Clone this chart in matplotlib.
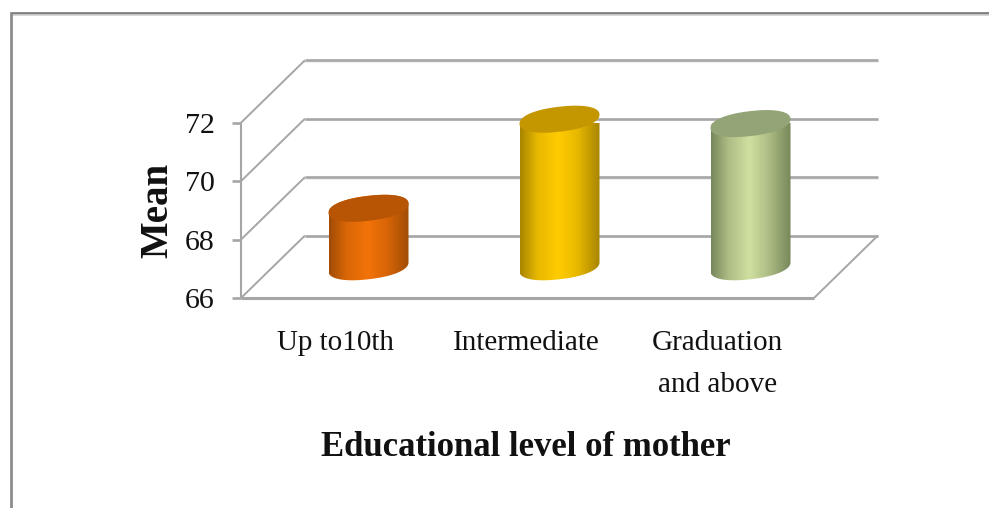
import numpy as np
import matplotlib
matplotlib.use("Agg")
import matplotlib.pyplot as plt
from matplotlib.colors import LinearSegmentedColormap
from matplotlib.lines import Line2D
from matplotlib.patches import Polygon

categories = ["Up to10th", "Intermediate", "Graduation\nand above"]
means = [68.0, 71.05, 70.9]
y_ticks = [66, 68, 70, 72]
x_title = "Educational level of mother"
y_title = "Mean"
side_dark = ["#a04c05", "#a88500", "#76875a"]
side_mid = ["#d96607", "#e8b800", "#aebd85"]
side_light = ["#f37309", "#ffcc00", "#cfe0a0"]
top_colors = ["#b85505", "#c49700", "#93a577"]

W, H = 989, 508
fig = plt.figure(figsize=(W / 100, H / 100), dpi=100, facecolor="white")
L, R, B, T = 241, 814, 298, 122.7
ax = fig.add_axes([L / W, 1 - B / H, (R - L) / W, (B - T) / H])
ax.set_xlim(-0.5, 2.5)
ax.set_ylim(66, 72)
ax.axis("off")
px = 3 / (R - L)
py = 6 / (B - T)
dx, dy = 64 * px, 62.5 * py

GRID = "#a6a6a6"
kw = dict(color=GRID, clip_on=False, solid_capstyle="butt", zorder=1)
for v in y_ticks:
    ax.plot([-0.5 + dx, 2.5 + dx], [v + dy, v + dy], lw=1.9, **kw)
    ax.plot([-0.5 + dx, 2.5 + dx], [v + dy - 1.6 * py] * 2, lw=1.2,
            color="#ececec", clip_on=False, zorder=0.9)
    ax.plot([-0.5, -0.5 + dx], [v, v + dy], lw=1.4, **kw)
    ax.plot([-0.5 - 9 * px, -0.5], [v, v], lw=1.9, **kw)
ax.plot([-0.5, -0.5], [66, 72], lw=1.5, **kw)
ax.plot([-0.5, 2.5], [66, 66], lw=2.2, **kw)
ax.plot([2.5, 2.5 + dx], [66, 66 + dy], lw=1.4, **kw)

a = 40 * px
b = 12.5 * py
s = 4.5 * py
t = np.linspace(0, 2 * np.pi, 240)
power = 0.9
for i, v in enumerate(means):
    cx = i + dx / 2
    base = 66 + dy / 2
    top = v + dy / 2
    cos_t, sin_t = np.cos(t), np.sin(t)
    sc = np.sign(cos_t) * np.abs(cos_t) ** power
    ss = np.sign(sin_t) * np.abs(sin_t) ** power
    ex = a * sc
    ey = b * ss + s * sc
    lower = t >= np.pi
    bx = np.r_[cx + ex[lower], cx + ex[~lower]]
    by = np.r_[base + ey[lower], top + ey[~lower]]
    cmap = LinearSegmentedColormap.from_list(
        f"c{i}", [(0, side_dark[i]), (0.22, side_mid[i]), (0.48, side_light[i]),
                  (0.72, side_mid[i]), (1, side_dark[i])])
    clip = Polygon(np.c_[bx, by], closed=True, transform=ax.transData,
                   fc="none", ec="none")
    ax.add_patch(clip)
    im = ax.imshow(np.linspace(0, 1, 256)[None, :], cmap=cmap, aspect="auto",
                   extent=[cx - a, cx + a, 60, 75], zorder=3)
    im.set_clip_path(clip)
    ax.fill(cx + ex, top + ey, color=top_colors[i], lw=0, zorder=4, clip_on=False)
ax.set_xlim(-0.5, 2.5)
ax.set_ylim(66, 72)

SERIF = "Liberation Serif"
for v in y_ticks:
    ax.text(-0.5 - 26 * px, v - 3 * py, str(v), ha="right", va="center",
            fontsize=21.5, family=SERIF, color="#111111", clip_on=False)
for i, c in enumerate(categories):
    ax.text(i - 1 * px, 66 - 32 * py, c, ha="center", va="top",
            fontsize=21, family=SERIF, color="#111111", linespacing=1.78,
            clip_on=False)
fig.text(526 / W, 1 - 447 / H, x_title, ha="center", va="center",
         fontsize=25, family=SERIF, weight="bold", color="#111111")
fig.text(158 / W, 1 - 210 / H, y_title, ha="center", va="center",
         rotation=90, fontsize=28, family=SERIF, weight="bold", color="#111111")

for xs, ys, lw, col in [
    ([10, 989], [12.5, 12.5], 2, "#808080"),
    ([11, 989], [14.5, 14.5], 1.2, "#d0d0d0"),
    ([10.5, 10.5], [12, 508], 2, "#8c8c8c"),
]:
    fig.add_artist(Line2D([x / W for x in xs], [1 - y / H for y in ys],
                          lw=lw, color=col, transform=fig.transFigure,
                          solid_capstyle="butt"))

fig.savefig("out.png", dpi=100)
